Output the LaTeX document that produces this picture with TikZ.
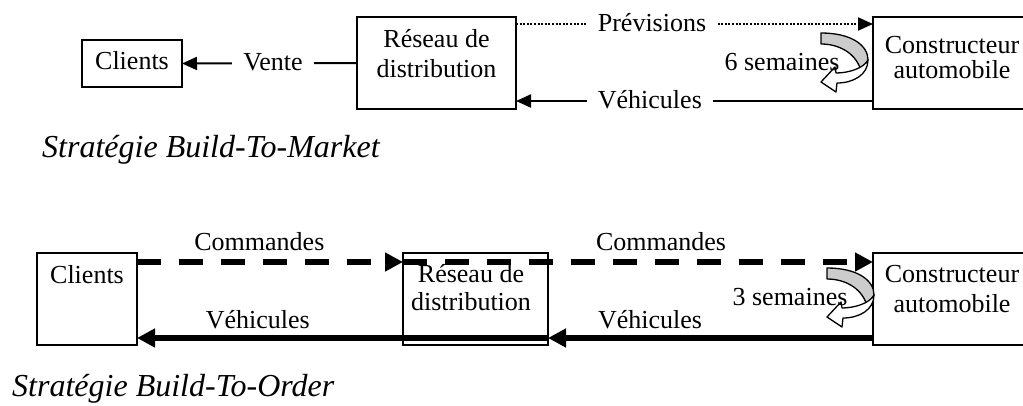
\documentclass[tikz,border=0pt]{standalone}
\usepackage{fontspec}
\setmainfont{Liberation Serif}
\usetikzlibrary{arrows.meta}
\tikzset{
  semarrow/.pic={
    \fill[gray!40, draw=black, line width=1.3pt, line join=round]
      (0,0) .. controls (30,0) and (47,12) .. (47,27) -- (40,38)
      .. controls (36,22) and (20,11) .. (0,11) -- cycle;
    \filldraw[fill=white, draw=black, line width=1.3pt, line join=round]
      (47,27) .. controls (47,42) and (32,50) .. (16,50) -- (15,59) -- (0,49)
      -- (14,34) -- (15,40) .. controls (28,40) and (43,35) .. (47,27) -- cycle;
  }
}
\begin{document}
\begin{tikzpicture}[x=1pt,y=-1pt,
  box/.style={draw, line width=1.6pt, inner sep=0pt, outer sep=0pt},
  txt/.style={font=\fontsize{26}{30}\selectfont, inner sep=0pt, anchor=base},
  captxt/.style={font=\fontsize{32}{38}\selectfont\itshape, inner sep=0pt, anchor=base west},
  lblgap/.style={font=\fontsize{26}{30}\selectfont, fill=white, inner xsep=11pt, inner ysep=3pt, anchor=base, yshift=-7pt},
  lblabove/.style={font=\fontsize{26}{30}\selectfont, inner sep=0pt, anchor=base},
  thinarr/.style={line width=2pt, -{Triangle[length=15pt,width=13pt]}},
  thickarr/.style={line width=5.5pt, -{Triangle[length=18pt,width=18pt]}},
  dotline/.style={line width=2pt, dash pattern=on 2pt off 1.6pt},
  dashline/.style={dash pattern=on 24pt off 18pt},
]
\useasboundingbox (0,0) rectangle (1023,405);

% ---------- Build-To-Market ----------
\node[box, minimum width=100pt, minimum height=47pt] (clientsA) at (132,63.5) {};
\node[box, minimum width=159pt, minimum height=92pt] (reseauA) at (436.5,63) {};
\node[box, minimum width=158pt, minimum height=92pt] (constrA) at (952,63) {};

\node[txt] (clientsAt) at (132,69) {Clients};
\node[txt] (reseauAt1) at (436.5,47) {Réseau de};
\node[txt] (reseauAt2) at (436.5,77) {distribution};
\node[txt] (constrAt1) at (952,53) {Constructeur};
\node[txt] (constrAt2) at (952,78) {automobile};

\draw[thinarr] (reseauA.west) -- (clientsA.east)
  node[lblgap, pos=0.48] (venteL) {Vente};
\draw[thinarr, dotline] (reseauA.east |- 0,24) -- (constrA.west |- 0,24)
  node[lblgap, pos=0.381] (previsionsL) {Prévisions};
\draw[thinarr] (constrA.west |- 0,101) -- (reseauA.east |- 0,101)
  node[lblgap, pos=0.625] (vehiculesAL) {Véhicules};

\pic at (821,33) {semarrow};
\node[txt] (sixsem) at (782,70) {6 semaines};

\node[captxt] (capA) at (42,157) {Stratégie Build-To-Market};

% ---------- Build-To-Order ----------
\node[box, minimum width=100pt, minimum height=92pt] (clientsB) at (87,299) {};
\node[box, minimum width=145pt, minimum height=92pt] (reseauB) at (475.5,299) {};
\node[box, minimum width=158pt, minimum height=92pt] (constrB) at (952,299) {};

\node[txt] (clientsBt) at (87,283) {Clients};
\node[txt] (reseauBt1) at (471,282) {Réseau de};
\node[txt] (reseauBt2) at (471,310) {distribution};
\node[txt] (constrBt1) at (952,282) {Constructeur};
\node[txt] (constrBt2) at (952,312) {automobile};

\draw[thickarr, dashline] (clientsB.east |- 0,262) -- (reseauB.west |- 0,262)
  node[lblabove, pos=0.46, yshift=12pt] (commandes1) {Commandes};
\draw[thickarr, dashline] (reseauB.west |- 0,262) -- (constrB.west |- 0,262)
  node[lblabove, pos=0.549, yshift=12pt] (commandes2) {Commandes};
\draw[thickarr] (constrB.west |- 0,338) -- (reseauB.east |- 0,338)
  node[lblabove, pos=0.686, yshift=10pt] (vehiculesB2) {Véhicules};
\draw[thickarr] (reseauB.east |- 0,338) -- (clientsB.east |- 0,338)
  node[lblabove, pos=0.706, yshift=10pt] (vehiculesB1) {Véhicules};

\pic at (827,268) {semarrow};
\node[txt] (troissem) at (790,305) {3 semaines};

\node[captxt] (capB) at (12,396) {Stratégie Build-To-Order};
\end{tikzpicture}
\end{document}
